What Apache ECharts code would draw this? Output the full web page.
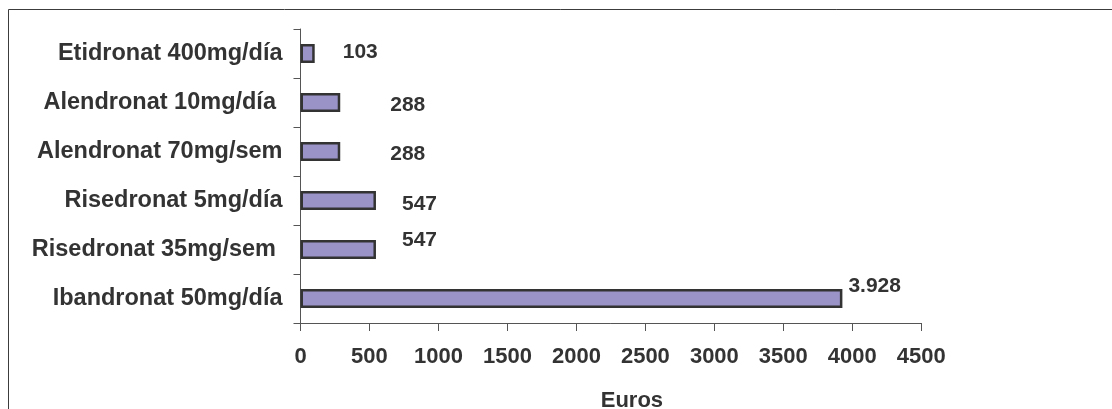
<!DOCTYPE html>
<html>
<head>
<meta charset="utf-8">
<title>Coste anual de bifosfonatos</title>
<script src="https://cdn.jsdelivr.net/npm/echarts@6/dist/echarts.min.js"></script>
<style>
  html, body { margin: 0; padding: 0; background: #ffffff; }
  #chart { width: 1112px; height: 409px; }
</style>
</head>
<body>
<div id="chart"></div>
<script>
// Treatments (top to bottom) and their yearly cost in euros
const categories = [
  'Etidronat 400mg/día',
  'Alendronat 10mg/día ',
  'Alendronat 70mg/sem',
  'Risedronat 5mg/día',
  'Risedronat 35mg/sem ',
  'Ibandronat 50mg/día'
];
const costs = [103, 288, 288, 547, 547, 3928];

// Value axis ticks
const xTicks = [0, 500, 1000, 1500, 2000, 2500, 3000, 3500, 4000, 4500];
const xAxisName = 'Euros';

// Where each value label sits relative to the end of its bar [dx, dy]
const labelOffsets = [[28, -1], [50, 3], [50, 2.5], [26, 3.5], [26, -9], [6, -12]];

const TEXT = '#333333';
const FONT = '"Liberation Sans", Arial, sans-serif';

// Spanish number style: thousands separated with a dot
function fmt(v) {
  return String(v).replace(/\B(?=(\d{3})+(?!\d))/g, '.');
}

const chart = echarts.init(document.getElementById('chart'), null, { renderer: 'canvas' });

chart.setOption({
  backgroundColor: '#ffffff',
  animation: false,
  textStyle: { fontFamily: FONT },
  graphic: [{
    type: 'rect',
    silent: true,
    shape: { x: 8.5, y: 9.5, width: 1300, height: 600 },
    style: { fill: 'none', stroke: '#3c3c3c', lineWidth: 1 }
  }],
  grid: {
    left: 300.5, right: 190.7, top: 29, bottom: 86,
    containLabel: false,
    outerBoundsMode: 'none'
  },
  xAxis: {
    type: 'value',
    min: xTicks[0],
    max: xTicks[xTicks.length - 1],
    interval: xTicks[1] - xTicks[0],
    name: xAxisName,
    nameLocation: 'middle',
    nameGap: 67,
    nameTextStyle: { color: TEXT, fontSize: 22, fontWeight: 'bold', fontFamily: FONT, padding: [0, 0, 0, 42] },
    axisLine: { show: true, lineStyle: { color: '#555555', width: 1 } },
    axisTick: { show: true, length: 8, lineStyle: { color: '#555555', width: 1 } },
    axisLabel: {
      color: TEXT, fontSize: 22, fontWeight: 'bold', fontFamily: FONT, margin: 23,
      formatter: v => String(v)
    },
    splitLine: { show: false }
  },
  yAxis: {
    type: 'category',
    data: categories,
    inverse: true,
    axisLine: { show: true, lineStyle: { color: '#555555', width: 1 } },
    axisTick: { show: true, length: 7, lineStyle: { color: '#555555', width: 1 } },
    axisLabel: { color: TEXT, fontSize: 23.5, fontWeight: 'bold', fontFamily: FONT, margin: 18 },
    splitLine: { show: false }
  },
  series: [{
    type: 'bar',
    barWidth: 19,
    data: costs.map((v, i) => ({
      value: v,
      label: { offset: labelOffsets[i] }
    })),
    itemStyle: { color: '#9a93c8', borderColor: '#333333', borderWidth: 2.5 },
    label: {
      show: true,
      position: 'right',
      distance: 0,
      color: TEXT,
      fontSize: 21,
      fontWeight: 'bold',
      fontFamily: FONT,
      formatter: p => fmt(p.value)
    }
  }]
});
</script>
</body>
</html>
